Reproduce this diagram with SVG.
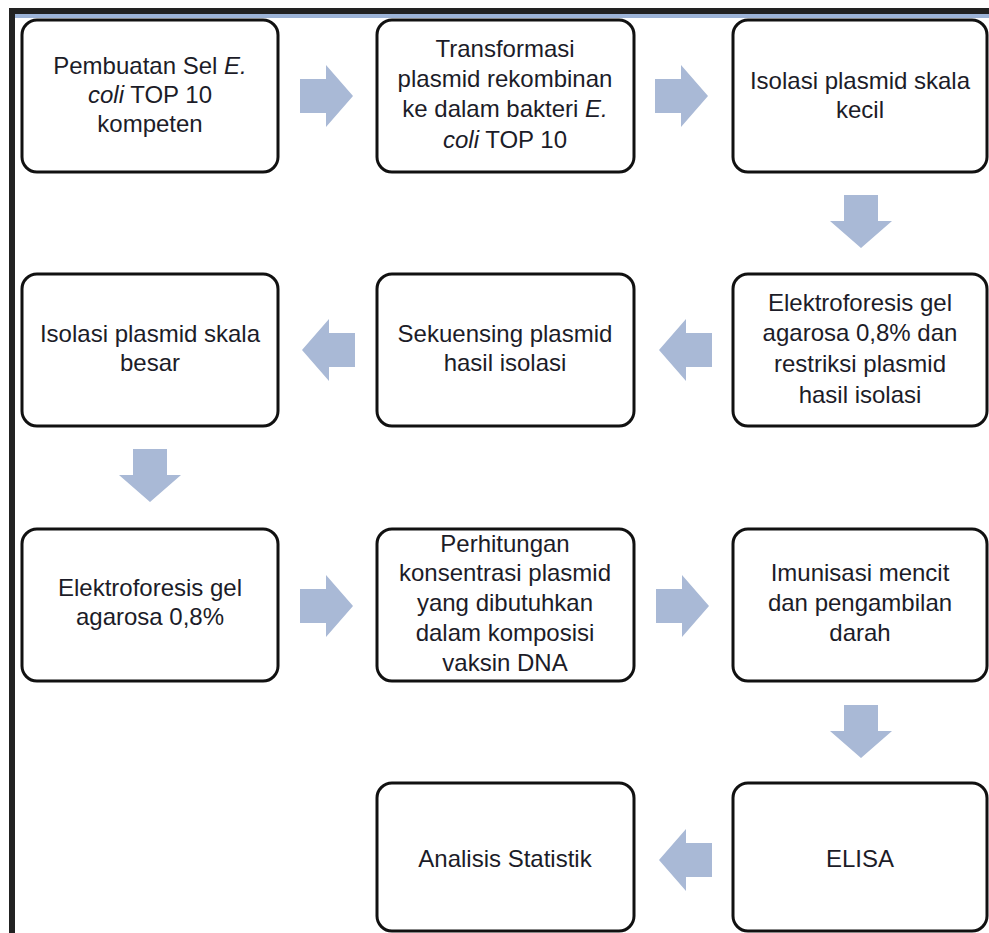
<svg xmlns="http://www.w3.org/2000/svg" width="989" height="933" viewBox="0 0 989 933">
<style>
.box{fill:#ffffff;stroke:#111111;stroke-width:3}
.t{font-family:"Liberation Sans",Arial,sans-serif;font-size:24px;fill:#1c1c28;text-anchor:middle}
.i{font-style:italic}
.arrow{fill:#a9b9d6}
</style>
<defs>
<path id="ar" d="M0,14 H26 V0 L53,31 L26,62 V48 H0 Z"/>
</defs>
<rect x="0" y="0" width="989" height="933" fill="#ffffff"/>
<g id="frame">
<rect x="9" y="8" width="980" height="6" fill="#222222"/>
<rect x="15" y="14" width="974" height="4" fill="#9db4d8"/>
<rect x="9" y="8" width="6" height="925" fill="#222222"/>
</g>
<g id="connectors">
<use href="#ar" class="arrow" transform="translate(300,65)"/>
<use href="#ar" class="arrow" transform="translate(655,65)"/>
<use href="#ar" class="arrow" transform="translate(892,195) rotate(90)"/>
<use href="#ar" class="arrow" transform="translate(712,319) scale(-1,1)"/>
<use href="#ar" class="arrow" transform="translate(355,319) scale(-1,1)"/>
<use href="#ar" class="arrow" transform="translate(181,449) rotate(90)"/>
<use href="#ar" class="arrow" transform="translate(300,575)"/>
<use href="#ar" class="arrow" transform="translate(656,575)"/>
<use href="#ar" class="arrow" transform="translate(892,705) rotate(90)"/>
<use href="#ar" class="arrow" transform="translate(712,829) scale(-1,1)"/>
</g>
<g id="n1">
<rect class="box" x="22" y="20" width="256" height="152" rx="15"/>
<text class="t" x="150" y="74">Pembuatan Sel <tspan class="i">E.</tspan></text>
<text class="t" x="150" y="103"><tspan class="i">coli</tspan> TOP 10</text>
<text class="t" x="150" y="132">kompeten</text>
</g>
<g id="n2">
<rect class="box" x="377" y="20" width="257" height="152" rx="15"/>
<text class="t" x="505" y="57">Transformasi</text>
<text class="t" x="505" y="87">plasmid rekombinan</text>
<text class="t" x="505" y="117">ke dalam bakteri <tspan class="i">E.</tspan></text>
<text class="t" x="505" y="148"><tspan class="i">coli</tspan> TOP 10</text>
</g>
<g id="n3">
<rect class="box" x="733" y="20" width="254" height="152" rx="15"/>
<text class="t" x="860" y="89">Isolasi plasmid skala</text>
<text class="t" x="860" y="118">kecil</text>
</g>
<g id="n4">
<rect class="box" x="22" y="274" width="256" height="152" rx="15"/>
<text class="t" x="150" y="342">Isolasi plasmid skala</text>
<text class="t" x="150" y="371">besar</text>
</g>
<g id="n5">
<rect class="box" x="377" y="274" width="257" height="152" rx="15"/>
<text class="t" x="505" y="342">Sekuensing plasmid</text>
<text class="t" x="505" y="371">hasil isolasi</text>
</g>
<g id="n6">
<rect class="box" x="733" y="274" width="254" height="152" rx="15"/>
<text class="t" x="860" y="311">Elektroforesis gel</text>
<text class="t" x="860" y="341">agarosa 0,8% dan</text>
<text class="t" x="860" y="372">restriksi plasmid</text>
<text class="t" x="860" y="403">hasil isolasi</text>
</g>
<g id="n7">
<rect class="box" x="22" y="529" width="256" height="152" rx="15"/>
<text class="t" x="150" y="596">Elektroforesis gel</text>
<text class="t" x="150" y="625">agarosa 0,8%</text>
</g>
<g id="n8">
<rect class="box" x="377" y="529" width="257" height="152" rx="15"/>
<text class="t" x="505" y="552">Perhitungan</text>
<text class="t" x="505" y="581">konsentrasi plasmid</text>
<text class="t" x="505" y="611">yang dibutuhkan</text>
<text class="t" x="505" y="641">dalam komposisi</text>
<text class="t" x="505" y="671">vaksin DNA</text>
</g>
<g id="n9">
<rect class="box" x="733" y="529" width="254" height="152" rx="15"/>
<text class="t" x="860" y="581">Imunisasi mencit</text>
<text class="t" x="860" y="611">dan pengambilan</text>
<text class="t" x="860" y="641">darah</text>
</g>
<g id="n10">
<rect class="box" x="377" y="783" width="257" height="148" rx="15"/>
<text class="t" x="505" y="867">Analisis Statistik</text>
</g>
<g id="n11">
<rect class="box" x="733" y="783" width="254" height="148" rx="15"/>
<text class="t" x="860" y="867">ELISA</text>
</g>
</svg>
